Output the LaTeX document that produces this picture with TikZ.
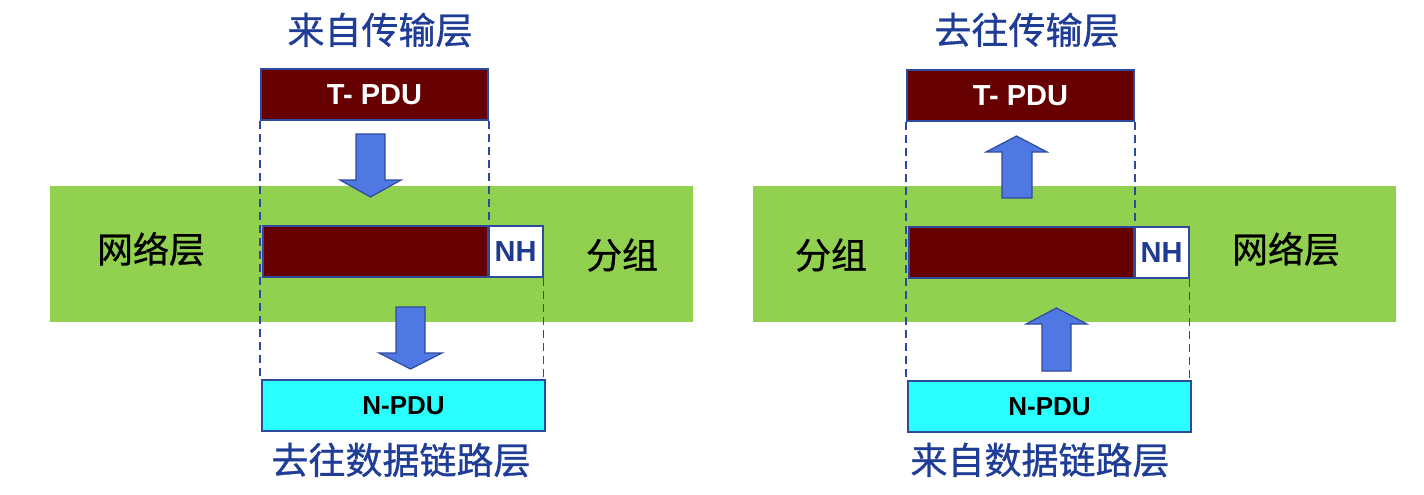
\documentclass[tikz,border=0pt]{standalone}
\usepackage{fontspec}
\setmainfont{Liberation Sans}
\newfontfamily\cjk[FakeBold=0.8]{Noto Sans CJK SC}
\definecolor{band}{HTML}{92D050}
\definecolor{pdu}{HTML}{660000}
\definecolor{edge}{HTML}{2E4A9E}
\definecolor{cyanbox}{HTML}{29FFFF}
\definecolor{arrowfill}{HTML}{4F78E2}
\definecolor{titleblue}{HTML}{1F3C96}
\definecolor{nhblue}{HTML}{1F3A93}
\tikzset{
  boxbase/.style={draw=edge, line width=1pt, inner sep=0pt, anchor=north west},
  tpdubox/.style={boxbase, fill=pdu, minimum width=113.5pt, minimum height=25.5pt, text=white, font=\bfseries\fontsize{14.5}{14.5}\selectfont},
  pktbox/.style={boxbase, fill=pdu, minimum width=112.5pt, minimum height=25.5pt},
  nhbox/.style={boxbase, fill=white, minimum width=27pt, minimum height=25.5pt, text=nhblue, font=\bfseries\fontsize{14.5}{14.5}\selectfont},
  npdubox/.style={boxbase, fill=cyanbox, minimum width=141.5pt, minimum height=25.5pt, text=black, font=\bfseries\fontsize{13}{13}\selectfont},
  guide/.style={draw=edge, line width=0.75pt, dash pattern=on 4pt off 2.5pt},
  blockarrow/.style={draw=edge, line width=0.6pt, fill=arrowfill},
  title/.style={text=titleblue, font=\cjk\fontsize{18.5}{18.5}\selectfont},
  side/.style={text=black, font=\cjk\fontsize{18}{18}\selectfont},
}
\begin{document}
\begin{tikzpicture}[x=0.5pt,y=-0.5pt]
\useasboundingbox (0,0) rectangle (1424,494);
% green bands
\fill[band] (50,186) rectangle (693,322);
\fill[band] (753,186) rectangle (1396,322);

% ---------- left ----------
\node[tpdubox] (lT) at (260,68) {T- PDU};
\node[pktbox] (lP) at (262,225) {};
\node[nhbox] (lNH) at (487.5,225) {NH};
\node[npdubox] (lN) at (261,379) {N-PDU};
\draw[guide] (lT.south west) -- (lT.south west |- lN.north);
\draw[guide] (lT.south east) -- (lT.south east |- lP.north);
\draw[guide] (lNH.south east) -- (lNH.south east |- lN.north);
\draw[blockarrow] (356,134) -- (385,134) -- (385,180) -- (401,180) -- (370.5,197) -- (340,180) -- (356,180) -- cycle;
\draw[blockarrow] (396,307) -- (425,307) -- (425,353) -- (442,353) -- (410.5,369) -- (379,353) -- (396,353) -- cycle;
\node[title] (lTop) at (380,30) {来自传输层};
\node[title] (lBot) at (401,460) {去往数据链路层};
\node[side] (lNet) at (151,249) {网络层};
\node[side] (lGrp) at (622,255) {分组};

% ---------- right ----------
\node[tpdubox] (rT) at (906,69) {T- PDU};
\node[pktbox] (rP) at (908,226) {};
\node[nhbox] (rNH) at (1133.5,226) {NH};
\node[npdubox] (rN) at (907,380) {N-PDU};
\draw[guide] (rT.south west) -- (rT.south west |- rN.north);
\draw[guide] (rT.south east) -- (rT.south east |- rP.north);
\draw[guide] (rNH.south east) -- (rNH.south east |- rN.north);
\draw[blockarrow] (1002,198) -- (1032,198) -- (1032,152) -- (1047,152) -- (1016.5,136) -- (986,152) -- (1002,152) -- cycle;
\draw[blockarrow] (1042,371) -- (1071,371) -- (1071,324) -- (1087,324) -- (1056.5,308) -- (1026,324) -- (1042,324) -- cycle;
\node[title] (rTop) at (1027,30) {去往传输层};
\node[title] (rBot) at (1040,460) {来自数据链路层};
\node[side] (rGrp) at (831,255) {分组};
\node[side] (rNet) at (1286,249) {网络层};
\end{tikzpicture}
\end{document}
